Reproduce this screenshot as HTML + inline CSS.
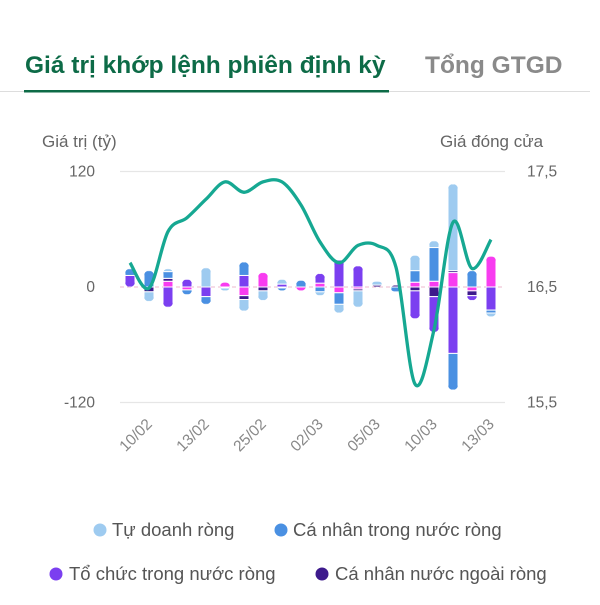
<!DOCTYPE html>
<html><head><meta charset="utf-8"><style>
html,body{margin:0;padding:0;background:#fff;}
body{width:600px;height:600px;overflow:hidden;font-family:"Liberation Sans","Noto Sans CJK SC",sans-serif;}
</style></head><body>
<svg id="chart" width="600" height="600" viewBox="0 0 600 600" xmlns="http://www.w3.org/2000/svg">
<text x="25" y="73" font-size="24.5" font-weight="bold" fill="#0d6b47">Giá trị khớp lệnh phiên định kỳ</text>
<text x="425" y="73" font-size="24.5" font-weight="bold" fill="#8a8a8a">Tổng GTGD</text>
<rect x="0" y="91" width="590" height="1" fill="#ddd"/>
<rect x="24" y="90" width="365" height="2.5" fill="#0d6b47"/>
<text x="42" y="147" font-size="17" fill="#666">Giá trị (tỷ)</text>
<text x="440" y="147" font-size="17" fill="#666">Giá đóng cửa</text>
<g id="grid"></g><g id="bars"></g><g id="line"></g><g id="axes"></g>
<g>
<circle cx="100" cy="530" r="6.5" fill="#9ecbf0"/>
<text x="112" y="536" font-size="18.5" fill="#555">Tự doanh ròng</text>
<circle cx="281" cy="530" r="6.5" fill="#4a90e2"/>
<text x="293" y="536" font-size="18.5" fill="#555">Cá nhân trong nước ròng</text>
<circle cx="56" cy="574" r="6.5" fill="#7b3ff0"/>
<text x="69" y="580" font-size="18.5" fill="#555">Tổ chức trong nước ròng</text>
<circle cx="322" cy="574" r="6.5" fill="#3d1a8c"/>
<text x="335" y="580" font-size="18.5" fill="#555">Cá nhân nước ngoài ròng</text>
</g>
</svg>
<script>
const dates = ["07/02","10/02","11/02","12/02","13/02","14/02","17/02","25/02","26/02","27/02","02/03","03/03","04/03","05/03","06/03","07/03","10/03","11/03","12/03","13/03"];
const magenta = [0,0,6,-3,0,5,-9,15,0,-4,4,-6,-2,0,0,5,6,15,-4,32];
const foreignInd = [0,-5,3,0,0,-1,-4,-4,-1,0,0,0,-2,2,2,-4,-10,2,-5,0];
const domInst = [12,0,-21,8,-10,0,12,0,3,0,10,28,22,0,0,-29,-37,-69,-5,-24];
const domInd = [7,17,7,-5,-8,0,14,0,-3,7,-5,-12,0,0,-5,12,35,-38,17,-3];
const proprietary = [0,-10,3,0,20,-3,-12,-10,5,0,-4,-9,-17,4,0,16,7,90,0,-4];
const price = [16.71,16.49,16.98,17.10,17.26,17.41,17.32,17.41,17.41,17.21,16.89,16.71,16.86,16.86,16.67,15.66,16.13,17.06,16.66,16.91];
const leftTicks = [120,0,-120];
const leftTickLabels = ["120","0","-120"];
const rightTicks = [17.5,16.5,15.5];
const rightTickLabels = ["17,5","16,5","15,5"];
const labelIdx = [1,4,7,10,13,16,19];

const NS="http://www.w3.org/2000/svg";
const X0=130, X1=491, L=120, R=505;
const xs=i=>X0+(X1-X0)*i/(dates.length-1);
const yv=v=>287-v*(115.5/120);
const yp=p=>287-(p-16.5)*115.5;
function mk(tag,attrs,parent){const e=document.createElementNS(NS,tag);for(const k in attrs)e.setAttribute(k,attrs[k]);parent.appendChild(e);return e;}
const grid=document.getElementById('grid'),bars=document.getElementById('bars'),line=document.getElementById('line'),axes=document.getElementById('axes');
leftTicks.forEach((t,i)=>{
  const y=yv(t);
  const g=mk('line',{x1:L,x2:R,y1:y,y2:y,stroke:t===0?'#f0c8d8':'#e6e6e6','stroke-width':1.2,'stroke-dasharray':t===0?'4 3':'none'},grid);
  
  
  const tx=mk('text',{x:95,y:y+5,'text-anchor':'end','font-size':15.5,fill:'#666'},axes);tx.textContent=leftTickLabels[i];
  
  
});
rightTicks.forEach((t,i)=>{
  const tx=mk('text',{x:527,y:yp(t)+5,'font-size':15.5,fill:'#666'},axes);tx.textContent=rightTickLabels[i];
  
  
});
labelIdx.forEach(i=>{
  const x=xs(i)+4,y=425;
  const tx=mk('text',{x:x,y:y,'text-anchor':'end','font-size':15.5,fill:'#888',transform:`rotate(-45 ${x} ${y})`},axes);tx.textContent=dates[i];
  
  
});
const series=[[magenta,'#f83cf0'],[foreignInd,'#3d1a8c'],[domInst,'#7b3ff0'],[domInd,'#4a90e2'],[proprietary,'#9ecbf0']];
const W=10;
dates.forEach((d,i)=>{
  const x=xs(i);
  let pos=0,neg=0;
  const g=mk('g',{},bars);
  
  
  const segs=[];
  series.forEach(([arr,c])=>{const v=arr[i];if(!v)return;
    if(v>0){segs.push([pos,pos+v,c]);pos+=v;}else{segs.push([neg+v,neg,c]);neg+=v;}});
  const top=yv(pos),bot=yv(neg);
  const cid='clip'+i;
  const cp=mk('clipPath',{id:cid},g);
  mk('rect',{x:x-W/2,y:top,width:W,height:Math.max(bot-top,0.1),rx:5},cp);
  const inner=mk('g',{'clip-path':`url(#${cid})`},g);
  segs.forEach(([a,b,c])=>{
    const r=mk('rect',{x:x-W/2,y:yv(b),width:W,height:yv(a)-yv(b),fill:c,stroke:'#fff','stroke-width':1},inner);
    
    
  });
});
const pts=price.map((p,i)=>[xs(i),yp(p)]);
let dstr=`M${pts[0][0]},${pts[0][1]}`;
for(let i=0;i<pts.length-1;i++){
  const p0=pts[Math.max(i-1,0)],p1=pts[i],p2=pts[i+1],p3=pts[Math.min(i+2,pts.length-1)];
  const t=0.5/3;
  dstr+=` C${p1[0]+(p2[0]-p0[0])*t},${p1[1]+(p2[1]-p0[1])*t} ${p2[0]-(p3[0]-p1[0])*t},${p2[1]-(p3[1]-p1[1])*t} ${p2[0]},${p2[1]}`;
}
const pl=mk('path',{d:dstr,fill:'none',stroke:'#16a892','stroke-width':3.3,'stroke-linejoin':'round'},line);


</script>
</body></html>
